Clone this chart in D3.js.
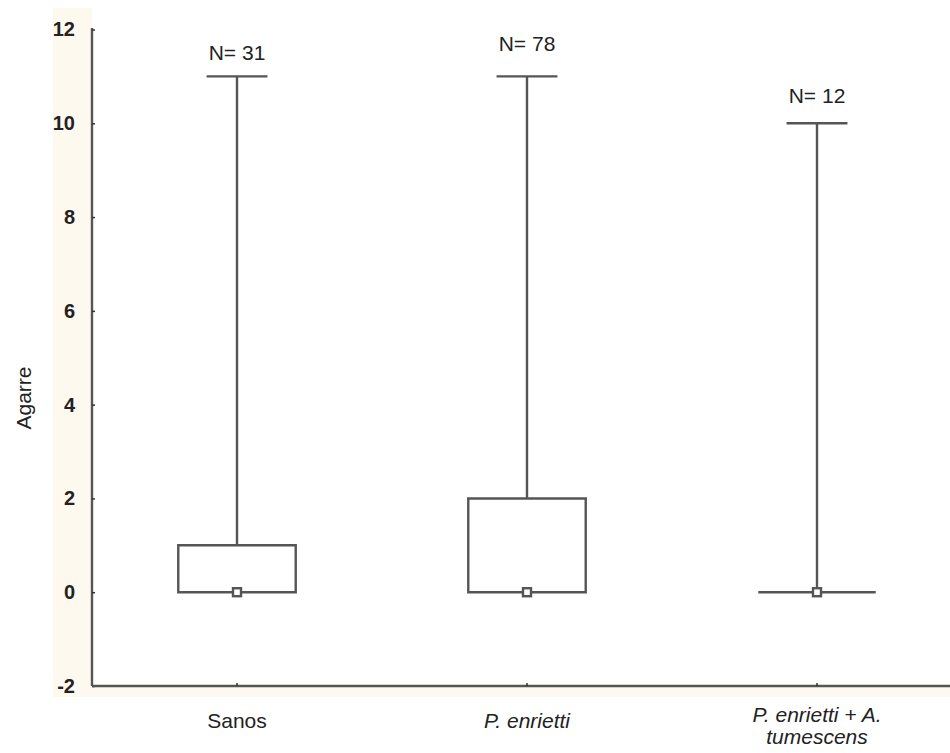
<!DOCTYPE html>
<html>
<head>
<meta charset="utf-8">
<script src="https://cdn.jsdelivr.net/npm/d3@7"></script>
<style>
  body { margin: 0; background: #fff; }
  text { font-family: "Liberation Sans", Arial, sans-serif; fill: #222; }
</style>
</head>
<body>
<svg id="chart"></svg>
<script>
const W = 950;
const H = 753;

// data
const categories = ['Sanos', 'P. enrietti', 'P. enrietti + A. tumescens'];
const italicCats = [false, true, true];
const labelLines = [['Sanos'], ['P. enrietti'], ['P. enrietti + A.', 'tumescens']];
const medians = [0, 0, 0];
const q1 = [0, 0, 0];
const q3 = [1, 2, 0];
const mins = [0, 0, 0];
const maxs = [11, 11, 10];
const counts = [31, 78, 12];
const yTicks = [-2, 0, 2, 4, 6, 8, 10, 12];

// Statistica places the N labels a bit unevenly above the caps
const nLabelGap = [16, 25, 20];

const margin = { left: 92, top: 28, bottom: 686 };

const svg = d3.select('#chart').attr('width', W).attr('height', H);

const x = d3.scaleBand()
	.domain(categories)
	.range([margin.left, margin.left + 290 * 3])
	.padding(0);

const y = d3.scaleLinear()
	.domain([-2, 12])
	.range([margin.bottom, 29.5]);

// cream surround + white plot area
svg.append('rect')
	.attr('x', 53).attr('y', 8)
	.attr('width', W - 53).attr('height', 697 - 8)
	.attr('fill', '#fef9ee');
svg.append('rect')
	.attr('x', margin.left).attr('y', 8)
	.attr('width', W - margin.left).attr('height', margin.bottom - 8)
	.attr('fill', '#fff');

const stroke = '#555';
const sw = 2.4;

const groups = svg.append('g')
	.selectAll('g')
	.data(categories)
	.enter()
	.append('g')
	.attr('transform', (d) => `translate(${x(d) + x.bandwidth() / 2},0)`);

const boxW = x.step() * 0.405;
const capW = x.step() * 0.21;

// whiskers
groups.append('line')
	.attr('x1', 0).attr('x2', 0)
	.attr('y1', (d, i) => y(q3[i]))
	.attr('y2', (d, i) => y(maxs[i]))
	.attr('stroke', stroke).attr('stroke-width', sw);
groups.append('line')
	.attr('x1', 0).attr('x2', 0)
	.attr('y1', (d, i) => y(q1[i]))
	.attr('y2', (d, i) => y(mins[i]))
	.attr('stroke', stroke).attr('stroke-width', sw);

// caps
groups.append('line')
	.attr('x1', -capW / 2).attr('x2', capW / 2)
	.attr('y1', (d, i) => y(maxs[i]))
	.attr('y2', (d, i) => y(maxs[i]))
	.attr('stroke', stroke).attr('stroke-width', sw);

// box (path, so a zero-height box still shows as a line)
groups.append('path')
	.attr('d', (d, i) => {
		const t = y(q3[i]);
		const b = y(q1[i]);
		return `M${-boxW / 2},${t}H${boxW / 2}V${b}H${-boxW / 2}Z`;
	})
	.attr('fill', 'none')
	.attr('stroke', stroke).attr('stroke-width', sw);

// median marker
groups.append('rect')
	.attr('x', -4).attr('width', 8)
	.attr('y', (d, i) => y(medians[i]) - 4).attr('height', 8)
	.attr('fill', '#fff')
	.attr('stroke', stroke).attr('stroke-width', 2.4);

// N labels
groups.append('text')
	.attr('text-anchor', 'middle')
	.attr('y', (d, i) => y(maxs[i]) - nLabelGap[i])
	.attr('font-size', 21)
	.text((d, i) => `N= ${counts[i]}`);

// y axis
const yAxis = svg.append('g')
	.attr('transform', `translate(${margin.left},0)`)
	.call(d3.axisLeft(y).tickValues(yTicks).tickSize(-3).tickPadding(17).tickFormat((d) => String(d)));
yAxis.select('.domain')
	.attr('d', `M0,${margin.top}V${margin.bottom}`)
	.attr('stroke', stroke).attr('stroke-width', sw);
yAxis.selectAll('.tick line').attr('stroke', '#333').attr('stroke-width', 1.5);
yAxis.selectAll('.tick text')
	.attr('font-size', 20).attr('font-weight', 'bold')
	.attr('font-family', '"Liberation Sans", Arial, sans-serif')
	.attr('fill', '#3a3a3a');

// x axis
const xAxis = svg.append('g')
	.attr('transform', `translate(0,${margin.bottom})`)
	.call(d3.axisBottom(x).tickSize(-3).tickFormat(''));
xAxis.select('.domain')
	.attr('d', `M${margin.left},0H${W}`)
	.attr('stroke', stroke).attr('stroke-width', sw);
xAxis.selectAll('.tick line').attr('stroke', '#333').attr('stroke-width', 1.5);

// category labels
const xl = svg.append('g')
	.selectAll('text')
	.data(categories)
	.enter()
	.append('text')
	.attr('text-anchor', 'middle')
	.attr('font-size', 21)
	.attr('font-style', (d, i) => (italicCats[i] ? 'italic' : 'normal'))
	.attr('transform', (d) => `translate(${x(d) + x.bandwidth() / 2},${margin.bottom + 42})`);
xl.each(function (d, i) {
	const lines = labelLines[i];
	const t = d3.select(this);
	lines.forEach((ln, j) => {
		t.append('tspan')
			.attr('x', 0)
			.attr('dy', j === 0 ? (lines.length > 1 ? -6 : 0) : 22)
			.text(ln);
	});
});

// y title
svg.append('text')
	.attr('transform', `translate(31,398) rotate(-90)`)
	.attr('text-anchor', 'middle')
	.attr('font-size', 21)
	.text('Agarre');
</script>
</body>
</html>
